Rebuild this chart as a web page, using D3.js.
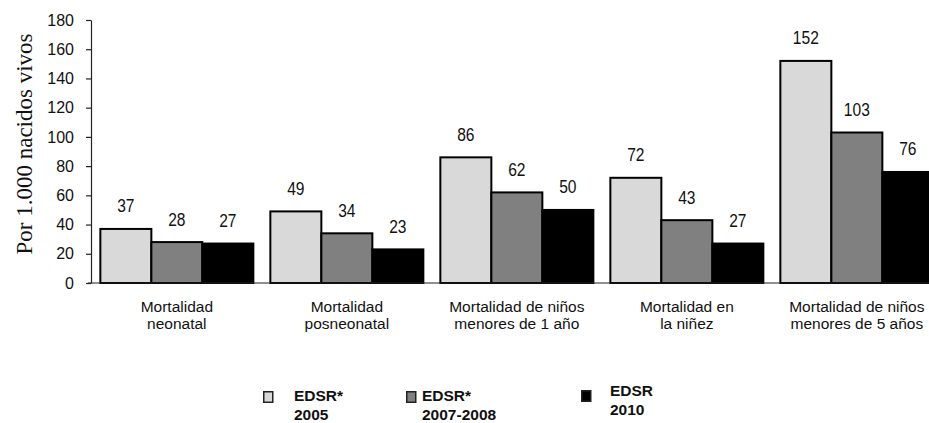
<!DOCTYPE html>
<html>
<head>
<meta charset="utf-8">
<script src="https://cdn.jsdelivr.net/npm/d3@7"></script>
<style>
  html, body { margin: 0; padding: 0; background: #fff; }
  svg { display: block; }
</style>
</head>
<body>
<svg id="chart" width="929" height="423"></svg>
<script>
// ---- data ----
const categories = [
  ["Mortalidad", "neonatal"],
  ["Mortalidad", "posneonatal"],
  ["Mortalidad de niños", "menores de 1 año"],
  ["Mortalidad en", "la niñez"],
  ["Mortalidad de niños", "menores de 5 años"]
];
const seriesNames = ["EDSR* 2005", "EDSR* 2007-2008", "EDSR 2010"];
const legendLines = [["EDSR*", "2005"], ["EDSR*", "2007-2008"], ["EDSR", "2010"]];
const values2005 = [37, 49, 86, 72, 152];
const values2007 = [28, 34, 62, 43, 103];
const values2010 = [27, 23, 50, 27, 76];
const yTicks = [0, 20, 40, 60, 80, 100, 120, 140, 160, 180];
const yTitle = "Por 1.000 nacidos vivos";

const seriesValues = [values2005, values2007, values2010];
const colors = ["#d9d9d9", "#808080", "#000000"];

const svg = d3.select("#chart");

const y = d3.scaleLinear().domain([0, 180]).range([283, 20]);
const catIdx = categories.map((d, i) => i);
const x0 = d3.scaleBand().domain(catIdx)
  .range([91, 91 + 170 * (5 - 0.1 + 0.11)])
  .paddingInner(0.1).paddingOuter(0.055);
const x1 = d3.scaleBand().domain(seriesNames).range([0, x0.bandwidth()]).padding(0);

// y axis
const yAxis = d3.axisLeft(y).tickValues(yTicks).tickSize(5).tickPadding(12).tickSizeOuter(0);
const gy = svg.append("g").attr("transform", "translate(91,0)").call(yAxis);
gy.select(".domain").attr("stroke", "#222").attr("stroke-width", 1.2);
gy.selectAll(".tick line").attr("stroke", "#222").attr("stroke-width", 1.2);
gy.selectAll(".tick text")
  .attr("font-family", "'Liberation Sans', Arial, sans-serif")
  .attr("font-size", 16).attr("fill", "#111");

// bars
const groups = svg.append("g").selectAll("g").data(catIdx).join("g")
  .attr("transform", d => `translate(${x0(d)},0)`);

groups.selectAll("rect")
  .data(i => seriesNames.map((s, k) => ({ s, k, v: seriesValues[k][i] })))
  .join("rect")
  .attr("x", d => x1(d.s))
  .attr("y", d => y(d.v))
  .attr("width", x1.bandwidth())
  .attr("height", d => y(0) - y(d.v))
  .attr("fill", d => colors[d.k])
  .attr("stroke", "#000")
  .attr("stroke-width", 2);

groups.selectAll("text.val")
  .data(i => seriesNames.map((s, k) => ({ s, k, v: seriesValues[k][i] })))
  .join("text")
  .attr("class", "val")
  .attr("transform", d => `translate(${x1(d.s) + x1.bandwidth() / 2},${y(d.v) - 16.5}) scale(0.82,1)`)
  .attr("text-anchor", "middle")
  .attr("font-family", "'Liberation Sans', Arial, sans-serif")
  .attr("font-size", 19)
  .attr("fill", "#111")
  .text(d => d.v);

// x axis line
const xAxis = d3.axisBottom(x0).tickSize(0).tickFormat("");
const gx = svg.append("g").attr("transform", `translate(0,${y(0)})`).call(xAxis);
gx.select(".domain").attr("stroke", "#222").attr("stroke-width", 1.2)
  .attr("d", `M88,0H929`);

// category labels
const cat = svg.append("g").selectAll("text").data(catIdx).join("text")
  .attr("x", d => x0(d) + x0.bandwidth() / 2)
  .attr("y", 311.5)
  .attr("text-anchor", "middle")
  .attr("font-family", "'Liberation Sans', Arial, sans-serif")
  .attr("font-size", 15.5)
  .attr("fill", "#111");
cat.selectAll("tspan").data(d => categories[d].map((t, j) => ({ t, j, d }))).join("tspan")
  .attr("x", o => x0(o.d) + x0.bandwidth() / 2)
  .attr("dy", o => o.j === 0 ? 0 : 17)
  .text(o => o.t);

// y title
svg.append("text")
  .attr("transform", "translate(32,144) rotate(-90)")
  .attr("text-anchor", "middle")
  .attr("font-family", "'Liberation Serif', 'Times New Roman', serif")
  .attr("font-size", 23)
  .attr("fill", "#111")
  .text(yTitle);

// legend
const legendPos = [
  { sx: 263, sy: 391, tx: 294, ty: 401 },
  { sx: 406, sy: 391, tx: 422, ty: 401 },
  { sx: 581, sy: 390, tx: 610, ty: 396 }
];
const lg = svg.append("g").selectAll("g").data(seriesNames).join("g");
lg.append("rect")
  .attr("x", (d, i) => legendPos[i].sx + 0.75)
  .attr("y", (d, i) => legendPos[i].sy + 0.75)
  .attr("width", 9).attr("height", 10.5)
  .attr("fill", (d, i) => colors[i])
  .attr("stroke", "#222").attr("stroke-width", 1.5);
lg.append("text")
  .attr("font-family", "'Liberation Sans', Arial, sans-serif")
  .attr("font-weight", "bold")
  .attr("font-size", 15.5)
  .attr("fill", "#111")
  .selectAll("tspan").data((d, i) => legendLines[i].map((t, j) => ({ t, j, i }))).join("tspan")
  .attr("x", o => legendPos[o.i].tx)
  .attr("y", o => legendPos[o.i].ty + o.j * 18.5)
  .text(o => o.t);
</script>
</body>
</html>
